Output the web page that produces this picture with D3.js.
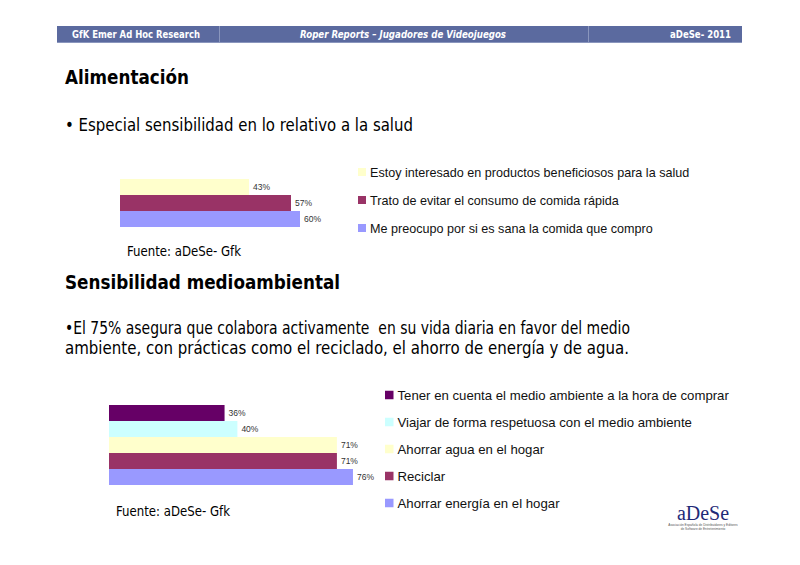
<!DOCTYPE html>
<html>
<head>
<meta charset="utf-8">
<script src="https://cdn.jsdelivr.net/npm/d3@7"></script>
<style>
  body { margin: 0; background: #fff; }
  svg { display: block; }
  .tah { font-family: "DejaVu Sans", sans-serif; }
  .ari { font-family: "Liberation Sans", Arial, sans-serif; }
</style>
</head>
<body>
<svg id="slide" width="800" height="565"></svg>
<script>
// header cells
const headerTexts = ["GfK Emer Ad Hoc Research", "Roper Reports – Jugadores de Videojuegos", "aDeSe- 2011"];

// food chart
const foodCategories = [
  "Estoy interesado en productos beneficiosos para la salud",
  "Trato de evitar el consumo de comida rápida",
  "Me preocupo por si es sana la comida que compro"
];
const foodValues = [43, 57, 60];
const foodColors = ["#ffffcc", "#993366", "#9999ff"];

// environment chart
const envCategories = [
  "Tener en cuenta el medio ambiente a la hora de comprar",
  "Viajar de forma respetuosa con el medio ambiente",
  "Ahorrar agua en el hogar",
  "Reciclar",
  "Ahorrar energía en el hogar"
];
const envValues = [36, 40, 71, 71, 76];
const envColors = ["#660066", "#ccffff", "#ffffcc", "#993366", "#9999ff"];

let svg = d3.select("#slide");

// Tahoma isn't here, so squeeze DejaVu to the width the slide text takes
function tahText(x, y, size, str, width, opts = {}) {
  let t = svg.append("text").attr("class", "tah")
    .attr("x", x).attr("y", y)
    .attr("font-size", size)
    .attr("fill", opts.fill || "#000")
    .attr("font-weight", opts.bold ? "bold" : "normal")
    .attr("font-style", opts.italic ? "italic" : "normal")
    .attr("text-anchor", opts.anchor || "start")
    .text(str);
  if (width) t.attr("textLength", width).attr("lengthAdjust", "spacingAndGlyphs");
  return t;
}

// header strip
svg.append("rect")
  .attr("x", 57).attr("y", 26).attr("width", 685).attr("height", 16)
  .attr("fill", "#5b6a9f");
svg.append("rect").attr("x", 57).attr("y", 42).attr("width", 685).attr("height", 1).attr("fill", "#8a96bd");
[219, 588].forEach(x => {
  svg.append("rect").attr("x", x).attr("y", 26).attr("width", 1).attr("height", 16).attr("fill", "#8a96bd");
});
tahText(72, 38, 11, headerTexts[0], 128, { bold: true, fill: "#fff" });
tahText(300, 38, 11, headerTexts[1], 206, { bold: true, italic: true, fill: "#fff" });
tahText(670, 38, 11, headerTexts[2], 61, { bold: true, fill: "#fff" });

// headings and bullets
tahText(65, 84, 20, "Alimentación", 124, { bold: true });
tahText(65, 131, 18, "• Especial sensibilidad en lo relativo a la salud", 348);
tahText(65, 289, 20, "Sensibilidad medioambiental", 275, { bold: true });
tahText(65, 334, 18, "•El 75% asegura que colabora activamente  en su vida diaria en favor del medio", 565)
  .attr("xml:space", "preserve");
tahText(65, 354, 18, "ambiente, con prácticas como el reciclado, el ahorro de energía y de agua.", 564);

function drawChart(cfg) {
  let g = svg.append("g");

  let xScale = d3.scaleLinear()
    .domain([0, 100])
    .range([cfg.x0, cfg.x0 + cfg.pxPer100]);

  let yScale = d3.scaleBand()
    .domain(cfg.categories)
    .range(cfg.yRange)
    .padding(0);

  let rows = cfg.categories.map((c, i) => ({ cat: c, value: cfg.values[i], color: cfg.colors[i] }));

  g.selectAll("rect.bar")
    .data(rows)
    .join("rect")
    .attr("class", "bar")
    .attr("x", xScale(0))
    .attr("y", d => yScale(d.cat))
    .attr("width", d => xScale(d.value) - xScale(0))
    .attr("height", yScale.bandwidth())
    .attr("fill", d => d.color);

  g.selectAll("text.val")
    .data(rows)
    .join("text")
    .attr("class", "val ari")
    .attr("x", d => xScale(d.value) + 4)
    .attr("y", d => yScale(d.cat) + yScale.bandwidth() / 2 + 3)
    .attr("font-size", 8.5)
    .attr("fill", "#333")
    .text(d => d.value + "%");

  // legend
  let legend = g.selectAll("g.leg")
    .data(rows)
    .join("g")
    .attr("class", "leg")
    .attr("transform", (d, i) => `translate(${cfg.legendX}, ${cfg.legendY + i * cfg.legendStep})`);
  legend.append("rect")
    .attr("x", 0).attr("y", -cfg.sq / 2)
    .attr("width", cfg.sq).attr("height", cfg.sq)
    .attr("fill", d => d.color);
  legend.append("text")
    .attr("class", "ari")
    .attr("x", cfg.sq + 4).attr("y", cfg.legendFont * 0.36)
    .attr("font-size", cfg.legendFont)
    .attr("fill", "#111")
    .text(d => d.cat);

  g.append("text").attr("class", "tah")
    .attr("x", cfg.srcX).attr("y", cfg.srcY)
    .attr("font-size", 14)
    .attr("textLength", 114).attr("lengthAdjust", "spacingAndGlyphs")
    .text("Fuente: aDeSe- Gfk");
}

drawChart({
  categories: foodCategories, values: foodValues, colors: foodColors,
  x0: 120, pxPer100: 300, yRange: [179, 227],
  legendX: 358, legendY: 172, legendStep: 28, legendFont: 12.6, sq: 8,
  srcX: 127, srcY: 256
});

drawChart({
  categories: envCategories, values: envValues, colors: envColors,
  x0: 109, pxPer100: 321, yRange: [405, 485],
  legendX: 385, legendY: 395, legendStep: 27, legendFont: 13.2, sq: 8.5,
  srcX: 116, srcY: 516
});

// logo
let logo = svg.append("g");
logo.append("text")
  .attr("x", 703).attr("y", 520)
  .attr("text-anchor", "middle")
  .attr("font-family", "'Liberation Serif', 'DejaVu Serif', serif")
  .attr("font-size", 20)
  .attr("fill", "#1f2a78")
  .text("aDeSe");
logo.append("text")
  .attr("x", 703).attr("y", 526)
  .attr("text-anchor", "middle")
  .attr("font-family", "'Liberation Sans', sans-serif")
  .attr("font-size", 3.2)
  .attr("fill", "#555")
  .text("Asociación Española de Distribuidores y Editores");
logo.append("text")
  .attr("x", 703).attr("y", 530)
  .attr("text-anchor", "middle")
  .attr("font-family", "'Liberation Sans', sans-serif")
  .attr("font-size", 3.2)
  .attr("fill", "#555")
  .text("de Software de Entretenimiento");
</script>
</body>
</html>
